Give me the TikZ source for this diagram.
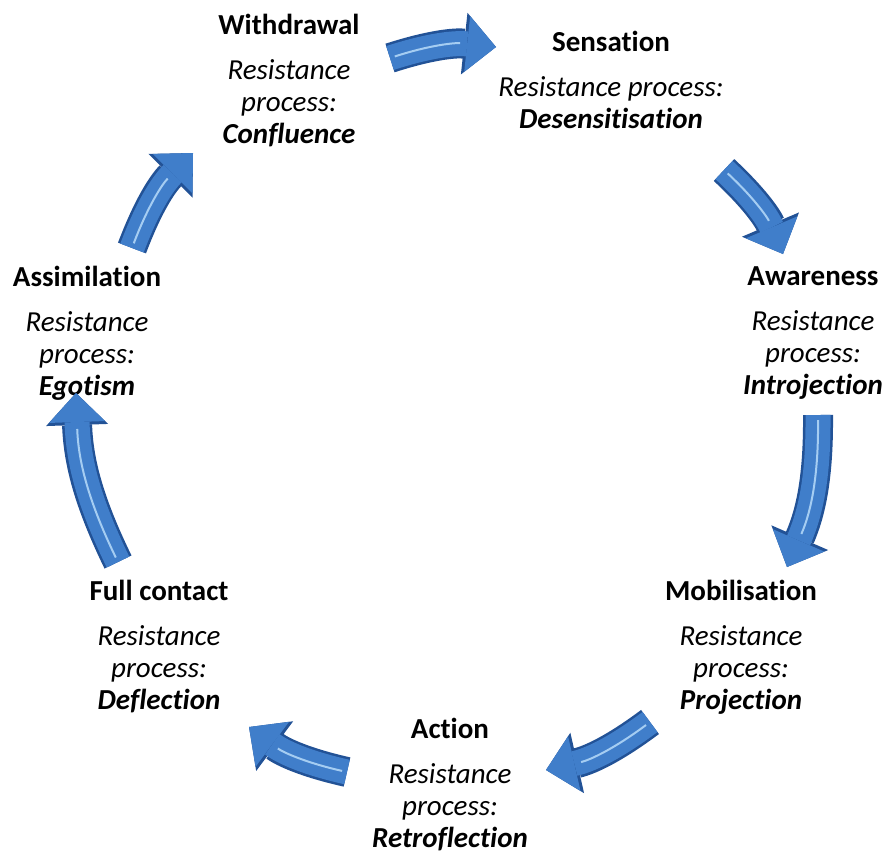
\documentclass[tikz,border=0pt]{standalone}
\usepackage{fontspec}
\setmainfont{Carlito}[Ligatures={NoCommon,NoContextual}]
\usetikzlibrary{arrows.meta,positioning}

\definecolor{arrowblue}{RGB}{64,126,202}
\definecolor{arrowedge}{RGB}{34,82,150}
\definecolor{arrowshine}{RGB}{165,205,242}

\begin{document}
\begin{tikzpicture}[x=1pt,y=-1pt,
    stage/.style={anchor=north, align=center, inner sep=0pt,
        font=\fontsize{29}{32}\selectfont},
    cyclearrow/.style={draw=arrowblue, line width=25pt,
        -{Triangle[width=56pt,length=29pt,line width=0pt]},
        preaction={draw=arrowedge, line width=30pt,
            -{Triangle[width=62pt,length=32pt,line width=0pt]}},
        postaction={draw=arrowshine, line width=2pt, -, shorten >=36pt, shorten <=5pt}}
    ]
    \useasboundingbox (0,0) rectangle (885,855);

    	%-----Stages-----
        % Withdrawal Stage
        \node [stage] (withdrawal) at (289,14) {%
            \textbf{Withdrawal} \\[13pt]
            \textit{Resistance} \\
            \textit{process:} \\
            \textbf{\textit{Confluence}}
        };

        % Sensation Stage
        \node [stage] (sensation) at (611,31) {%
            \textbf{Sensation} \\[13pt]
            \textit{Resistance process:} \\
            \textbf{\textit{Desensitisation}}
        };

        % Awareness Stage
        \node [stage] (awareness) at (813,266) {%
            \textbf{Awareness} \\[13pt]
            \textit{Resistance} \\
            \textit{process:} \\
            \textbf{\textit{Introjection}}
        };

        % Mobilisation Stage
        \node [stage] (mobilisation) at (741,580) {%
            \textbf{Mobilisation} \\[13pt]
            \textit{Resistance} \\
            \textit{process:} \\
            \textbf{\textit{Projection}}
        };

        % Action Stage
        \node [stage] (action) at (450,718) {%
            \textbf{Action} \\[13pt]
            \textit{Resistance} \\
            \textit{process:} \\
            \textbf{\textit{Retroflection}}
        };

        % Full Contact Stage
        \node [stage] (fullcontact) at (159,580) {%
            \textbf{Full contact} \\[13pt]
            \textit{Resistance} \\
            \textit{process:} \\
            \textbf{\textit{Deflection}}
        };

        % Assimilation Stage
        \node [stage] (assimilation) at (87,266) {%
            \textbf{Assimilation} \\[13pt]
            \textit{Resistance} \\
            \textit{process:} \\
            \textbf{\textit{Egotism}}
        };

        %-----Arrow ends-----
        \coordinate (ws1) at (390,58);   \coordinate (ws2) at (496,47);
        \coordinate (sa1) at (724,170);  \coordinate (sa2) at (783,254);
        \coordinate (am1) at (818,415);  \coordinate (am2) at (787,567);
        \coordinate (ma1) at (650,722);  \coordinate (ma2) at (546,770);
        \coordinate (af1) at (347,772);  \coordinate (af2) at (249,727);
        \coordinate (fa1) at (118,562);  \coordinate (fa2) at (76,393);
        \coordinate (aw1) at (132,248);  \coordinate (aw2) at (193,153);

        %-----Arrows-----
        % Withdrawal to Sensation
        \draw [cyclearrow] (ws1) to[bend left=12] (ws2);
        % Sensation to Awareness
        \draw [cyclearrow] (sa1) to[bend left=12] (sa2);
        % Awareness to Mobilisation
        \draw [cyclearrow] (am1) to[bend left=12] (am2);
        % Mobilisation to Action
        \draw [cyclearrow] (ma1) to[bend left=12] (ma2);
        % Action to Full Contact
        \draw [cyclearrow] (af1) to[bend left=12] (af2);
        % Full Contact to Assimilation
        \draw [cyclearrow] (fa1) to[bend left=12] (fa2);
        % Assimilation to Withdrawal
        \draw [cyclearrow] (aw1) to[bend left=12] (aw2);

\end{tikzpicture}
\end{document}
